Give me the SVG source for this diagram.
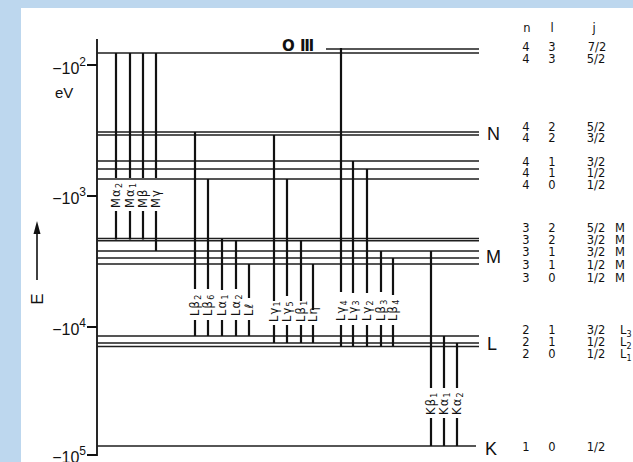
<svg xmlns="http://www.w3.org/2000/svg" width="633" height="462" viewBox="0 0 633 462">
<style>
.lv{stroke:#1e1e1e;stroke-width:1.4;fill:none}
.tr{stroke:#111;stroke-width:2.2;fill:none}
.ax{stroke:#111;stroke-width:1.8;fill:none}
.lbl{font-family:"DejaVu Sans",sans-serif;font-size:11.5px;fill:#111;letter-spacing:1.2px}
.sb{font-size:8px}
.tb{font-family:"DejaVu Sans",sans-serif;font-size:11.5px;fill:#111;text-anchor:middle}
.tl{font-family:"DejaVu Sans",sans-serif;font-size:11.5px;fill:#111}
.big{font-family:"Liberation Sans",sans-serif;font-size:18px;fill:#111}
.axl{font-family:"Liberation Sans",sans-serif;font-size:16px;fill:#111;text-anchor:end}
</style>
<rect width="633" height="462" fill="#bdd7ee"/>
<rect x="21" y="8" width="612" height="454" fill="#fff"/>

<g id="axis">
  <path class="ax" d="M97 39 V455 H87 M87 65 H97 M87 196 H97 M87 327 H97"/>
  <text class="axl" x="86" y="74">−10<tspan font-size="12" dy="-8">2</tspan></text>
  <text class="axl" x="86" y="204">−10<tspan font-size="12" dy="-8">3</tspan></text>
  <text class="axl" x="86" y="335">−10<tspan font-size="12" dy="-8">4</tspan></text>
  <text class="axl" x="86" y="463">−10<tspan font-size="12" dy="-8">5</tspan></text>
  <text x="55" y="98" font-family="Liberation Sans, sans-serif" font-size="15" fill="#111">eV</text>
  <path d="M37 280 V232" stroke="#111" stroke-width="1.6"/>
  <polygon points="37,221 33.5,234 40.5,234" fill="#111"/>
  <text transform="translate(43,299) rotate(-90)" font-family="Liberation Sans, sans-serif" font-size="17" fill="#111" text-anchor="middle">E</text>
</g>

<g id="level-O">
  <path class="lv" d="M326 49 H479"/>
  <text x="282" y="51" font-family="DejaVu Sans, sans-serif" font-size="15" font-weight="bold" fill="#111">O Ⅲ</text>
</g>
<g id="level-N">
  <path class="lv" d="M97 53 H479"/>
  <path class="lv" d="M97 132 H479 M97 135 H479"/>
  <path class="lv" d="M97 161 H479 M97 169 H479 M97 179 H479"/>
  <text class="big" x="487" y="140">N</text>
</g>
<g id="level-M">
  <path class="lv" d="M97 238.5 H479 M97 240.8 H479"/>
  <path class="lv" d="M97 251 H479 M97 258 H479 M97 264 H479"/>
  <text class="big" x="486" y="263">M</text>
</g>
<g id="level-L">
  <path class="lv" d="M97 336 H479 M97 343 H479 M97 346.5 H479"/>
  <text class="big" x="487" y="350">L</text>
</g>
<g id="level-K">
  <path class="lv" d="M97 446 H476"/>
  <text class="big" x="485" y="455">K</text>
</g>

<g id="transitions">
  <path class="tr" d="M116 53 V178 M116 211 V239.5 M130 53 V178 M130 211 V239.5 M143 53 V178 M143 211 V239.5 M156 53 V178 M156 211 V251"/>
  <text class="lbl" transform="translate(120,208) rotate(-90)">Mα<tspan class="sb" dy="2">2</tspan></text>
  <text class="lbl" transform="translate(134,208) rotate(-90)">Mα<tspan class="sb" dy="2">1</tspan></text>
  <text class="lbl" transform="translate(147,208) rotate(-90)">Mβ</text>
  <text class="lbl" transform="translate(160,208) rotate(-90)">Mγ</text>

  <path class="tr" d="M195 132 V289 M195 320 V336 M208 179 V289 M208 320 V336 M222 238.5 V290 M222 320 V336 M236 240.5 V289 M236 320 V336 M249 264 V298 M249 320 V336"/>
  <text class="lbl" transform="translate(199,316) rotate(-90)">Lβ<tspan class="sb" dy="2">2</tspan></text>
  <text class="lbl" transform="translate(212,316) rotate(-90)">Lβ<tspan class="sb" dy="2">6</tspan></text>
  <text class="lbl" transform="translate(226,316) rotate(-90)">Lα<tspan class="sb" dy="2">1</tspan></text>
  <text class="lbl" transform="translate(240,316) rotate(-90)">Lα<tspan class="sb" dy="2">2</tspan></text>
  <text class="lbl" transform="translate(253,316) rotate(-90)">Lℓ</text>

  <path class="tr" d="M274 135 V301 M274 325 V343 M287 179 V296 M287 325 V343 M301 240.5 V301 M301 325 V343 M313 264 V310 M313 325 V343"/>
  <text class="lbl" transform="translate(278,322) rotate(-90)">Lγ<tspan class="sb" dy="2">1</tspan></text>
  <text class="lbl" transform="translate(291,322) rotate(-90)">Lγ<tspan class="sb" dy="2">5</tspan></text>
  <text class="lbl" transform="translate(305,322) rotate(-90)">Lβ<tspan class="sb" dy="2">1</tspan></text>
  <text class="lbl" transform="translate(317,322) rotate(-90)">Lη</text>

  <path class="tr" d="M341 48 V292 M341 325 V346.5 M353 161 V293 M353 325 V346.5 M367 169 V293 M367 325 V346.5 M381 251 V292 M381 325 V346.5 M393 258 V295 M393 325 V346.5"/>
  <text class="lbl" transform="translate(345,321) rotate(-90)">Lγ<tspan class="sb" dy="2">4</tspan></text>
  <text class="lbl" transform="translate(357,321) rotate(-90)">Lγ<tspan class="sb" dy="2">3</tspan></text>
  <text class="lbl" transform="translate(371,321) rotate(-90)">Lγ<tspan class="sb" dy="2">2</tspan></text>
  <text class="lbl" transform="translate(385,321) rotate(-90)">Lβ<tspan class="sb" dy="2">3</tspan></text>
  <text class="lbl" transform="translate(397,321) rotate(-90)">Lβ<tspan class="sb" dy="2">4</tspan></text>

  <path class="tr" d="M431 251 V388 M431 418 V446 M444 336 V388 M444 418 V446 M457 343 V388 M457 418 V446"/>
  <text class="lbl" transform="translate(435,415) rotate(-90)">Kβ<tspan class="sb" dy="2">1</tspan></text>
  <text class="lbl" transform="translate(448,415) rotate(-90)">Kα<tspan class="sb" dy="2">1</tspan></text>
  <text class="lbl" transform="translate(461,415) rotate(-90)">Kα<tspan class="sb" dy="2">2</tspan></text>
</g>

<g id="table">
  <text class="tb" x="527" y="32" font-size="13">n</text>
  <text class="tb" x="552" y="32" font-size="13">l</text>
  <text class="tb" x="594" y="32" font-size="13">j</text>
  <g>
    <text class="tb" x="526" y="50.5">4</text><text class="tb" x="552" y="50.5">3</text><text class="tb" x="597" y="50.5">7/2</text>
    <text class="tb" x="526" y="62.5">4</text><text class="tb" x="552" y="62.5">3</text><text class="tb" x="596" y="62.5">5/2</text>
    <text class="tb" x="526" y="130.5">4</text><text class="tb" x="552" y="130.5">2</text><text class="tb" x="596" y="130.5">5/2</text>
    <text class="tb" x="526" y="141.5">4</text><text class="tb" x="552" y="141.5">2</text><text class="tb" x="596" y="141.5">3/2</text>
    <text class="tb" x="526" y="165.5">4</text><text class="tb" x="552" y="165.5">1</text><text class="tb" x="596" y="165.5">3/2</text>
    <text class="tb" x="526" y="176.5">4</text><text class="tb" x="552" y="176.5">1</text><text class="tb" x="596" y="176.5">1/2</text>
    <text class="tb" x="526" y="189">4</text><text class="tb" x="552" y="189">0</text><text class="tb" x="596" y="189">1/2</text>
    <text class="tb" x="526" y="231.5">3</text><text class="tb" x="552" y="231.5">2</text><text class="tb" x="596" y="231.5">5/2</text><text class="tl" x="615" y="231.5">M</text>
    <text class="tb" x="526" y="243.5">3</text><text class="tb" x="552" y="243.5">2</text><text class="tb" x="596" y="243.5">3/2</text><text class="tl" x="615" y="243.5">M</text>
    <text class="tb" x="526" y="255.5">3</text><text class="tb" x="552" y="255.5">1</text><text class="tb" x="596" y="255.5">3/2</text><text class="tl" x="615" y="255.5">M</text>
    <text class="tb" x="526" y="268.5">3</text><text class="tb" x="552" y="268.5">1</text><text class="tb" x="596" y="268.5">1/2</text><text class="tl" x="615" y="268.5">M</text>
    <text class="tb" x="526" y="281.5">3</text><text class="tb" x="552" y="281.5">0</text><text class="tb" x="596" y="281.5">1/2</text><text class="tl" x="615" y="281.5">M</text>
    <text class="tb" x="526" y="333.5">2</text><text class="tb" x="552" y="333.5">1</text><text class="tb" x="596" y="333.5">3/2</text><text class="tl" x="620" y="333.5">L<tspan font-size="8" dy="3">3</tspan></text>
    <text class="tb" x="526" y="345.5">2</text><text class="tb" x="552" y="345.5">1</text><text class="tb" x="596" y="345.5">1/2</text><text class="tl" x="620" y="345.5">L<tspan font-size="8" dy="3">2</tspan></text>
    <text class="tb" x="526" y="357.5">2</text><text class="tb" x="552" y="357.5">0</text><text class="tb" x="596" y="357.5">1/2</text><text class="tl" x="620" y="357.5">L<tspan font-size="8" dy="3">1</tspan></text>
    <text class="tb" x="526" y="450.5">1</text><text class="tb" x="552" y="450.5">0</text><text class="tb" x="596" y="450.5">1/2</text>
  </g>
</g>
</svg>
